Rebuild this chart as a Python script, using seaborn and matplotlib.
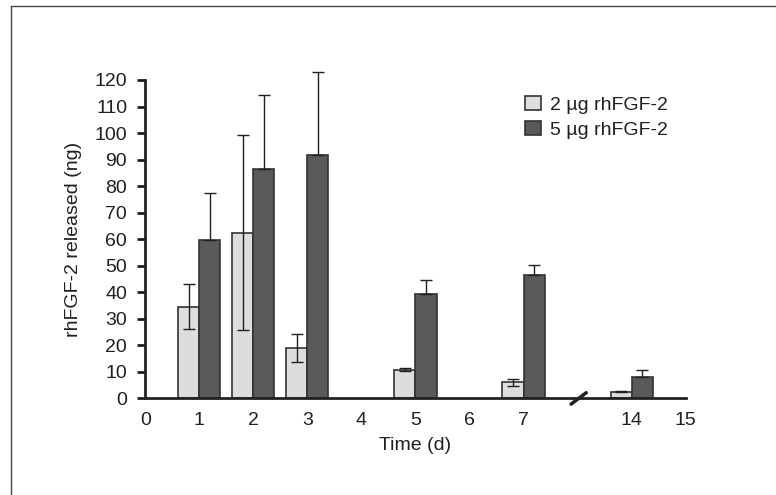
import numpy as np
import pandas as pd
import matplotlib
matplotlib.use("Agg")
import matplotlib.pyplot as plt
from matplotlib.lines import Line2D
import seaborn as sns

# values
days = ["1", "2", "3", "5", "7", "14"]
low_mean = [34.5, 62.4, 19.0, 10.8, 6.0, 2.5]
low_sd = [8.5, 36.7, 5.4, 0.7, 1.3, 0.3]
high_mean = [59.6, 86.5, 91.7, 39.5, 46.3, 8.0]
high_sd = [17.9, 27.7, 31.2, 5.0, 3.8, 2.7]

groups = ["2 µg rhFGF-2", "5 µg rhFGF-2"]
x_order = ["0", "1", "2", "3", "4", "5", "6", "7", "gap", "14", "15"]
x_labels = ["0", "1", "2", "3", "4", "5", "6", "7", "", "14", "15"]

light = "#dcdddf"
dark = "#58595b"
ink = "#231f20"
fs = 14

df = pd.DataFrame({
    "day": days * 2,
    "group": [groups[0]] * len(days) + [groups[1]] * len(days),
    "value": low_mean + high_mean,
})

sns.set_style("white")
plt.rcParams["font.family"] = ["Liberation Sans", "DejaVu Sans"]
plt.rcParams["text.color"] = ink
plt.rcParams["axes.labelcolor"] = ink
plt.rcParams["xtick.color"] = ink
plt.rcParams["ytick.color"] = ink

fig = plt.figure(figsize=(7.76, 4.95), dpi=100)
ax = fig.add_axes([0.1872, 0.1954, 0.6964, 0.643])

sns.barplot(data=df, x="day", y="value", hue="group", order=x_order,
            hue_order=groups, palette=[light, dark], width=0.78,
            edgecolor="#333333", linewidth=1.2, errorbar=None, ax=ax)

# error bars: both sides on light bars, upper only on dark bars
err_sets = [
    (low_mean, [low_sd, low_sd]),
    (high_mean, [[0] * len(high_sd), high_sd]),
]
for cont, (means, yerr) in zip(ax.containers, err_sets):
    xs = sorted(b.get_x() + b.get_width() / 2 for b in cont if b.get_height() > 0)
    eb = ax.errorbar(xs, means, yerr=yerr, fmt="none", ecolor=ink,
                     elinewidth=1.0, capsize=4, capthick=1.0, zorder=3)
    for art in eb.lines[1] + eb.lines[2]:
        art.set_clip_on(False)

ax.set_xlim(0, 10)
ax.set_ylim(0, 120)
ax.set_yticks(np.arange(0, 121, 10))
ax.set_xticks(range(len(x_order)))
ax.set_xticklabels(x_labels)
ax.tick_params(axis="y", length=6, width=2, pad=7, labelsize=fs, direction="out", left=True)
ax.tick_params(axis="x", length=0, pad=10, labelsize=fs)

for side in ["top", "right"]:
    ax.spines[side].set_visible(False)
for side in ["left", "bottom"]:
    ax.spines[side].set_linewidth(2)
    ax.spines[side].set_color("#222222")

ax.set_xlabel("Time (d)", fontsize=fs, labelpad=6)
ax.set_ylabel("rhFGF-2 released (ng)", fontsize=fs, labelpad=9)

# axis break mark between 7 and 14
ax.plot([7.88, 8.16], [-2.2, 2.1], color="#222222", lw=2.5, clip_on=False, zorder=5)

ax.legend(loc="upper left", bbox_to_anchor=(0.6765, 0.807),
          bbox_transform=fig.transFigure, frameon=False, fontsize=fs,
          handlelength=0.8, handleheight=0.8, handletextpad=0.5,
          labelspacing=0.35, borderpad=0, borderaxespad=0)

# page frame (left and top edges)
fig.add_artist(Line2D([11 / 776, 11 / 776], [0, 1 - 6 / 495], color="#444444", lw=1))
fig.add_artist(Line2D([11 / 776, 1], [1 - 6 / 495, 1 - 6 / 495], color="#444444", lw=1))

fig.savefig("out.png", dpi=100)
